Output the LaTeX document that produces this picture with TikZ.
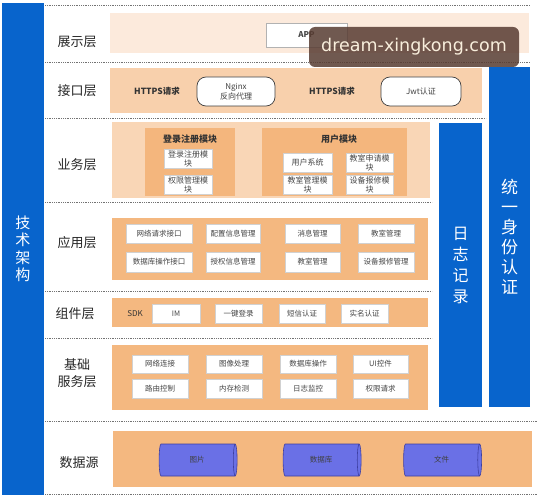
\documentclass[tikz,border=0pt]{standalone}
\usepackage{fontspec}
\setmainfont{Noto Sans CJK SC}
\newfontfamily\wmfont{DejaVu Sans}
\usetikzlibrary{shapes.geometric}
\definecolor{barblue}{RGB}{8,100,204}
\definecolor{showpeach}{RGB}{252,234,220}
\definecolor{ifpeach}{RGB}{248,208,172}
\definecolor{bizpeach}{RGB}{249,214,182}
\definecolor{modorange}{RGB}{244,182,125}
\definecolor{apporange}{RGB}{244,184,128}
\definecolor{cylfill}{RGB}{106,112,230}
\definecolor{cyldraw}{RGB}{60,62,160}
\definecolor{wmbrown}{RGB}{88,60,50}
\definecolor{wmtext}{RGB}{248,238,220}
\definecolor{txtgray}{RGB}{70,70,70}
\tikzset{
  bar/.style={fill=barblue, draw=none, text=white, align=center},
  band/.style={draw=none, inner sep=0pt},
  layerlabel/.style={font=\fontsize{13}{15}\selectfont, text=black!85, align=center},
  wbox/.style={fill=white, draw=black!18, inner sep=0pt, text=txtgray, align=center,
     font=\fontsize{7.5}{9}\selectfont},
  rbox/.style={fill=white, draw=black!75, line width=0.7pt, rounded corners=9pt, inner sep=0pt,
     align=center, text=black!75, font=\fontsize{8}{9.5}\selectfont},
  plain/.style={inner sep=0pt, text=black!80, font=\bfseries\fontsize{8.5}{10}\selectfont},
  modbox/.style={fill=modorange, draw=none, inner sep=0pt},
  modtitle/.style={inner sep=0pt, text=black!80, font=\bfseries\fontsize{9}{11}\selectfont},
  dots/.style={draw=black!55, line width=0.6pt, dash pattern=on 0.7pt off 1.1pt},
  cyl/.style={shape=cylinder, aspect=0.55, fill=cylfill, draw=cyldraw, line width=0.6pt,
     minimum height=78pt, minimum width=32pt, inner sep=0pt, text=black!75,
     font=\fontsize{7.5}{9}\selectfont}
}
\begin{document}
\begin{tikzpicture}[x=1pt,y=-1pt]
\useasboundingbox (0,0) rectangle (546,500);
\fill[white] (0,0) rectangle (546,500);

% dotted separators
\coordinate (d1a) at (45,5);   \coordinate (d1b) at (530,5);
\coordinate (d2a) at (45,62);  \coordinate (d2b) at (530,62);
\coordinate (d3a) at (45,118); \coordinate (d3b) at (486,118);
\coordinate (d4a) at (45,202); \coordinate (d4b) at (432,202);
\coordinate (d5a) at (45,291); \coordinate (d5b) at (432,291);
\coordinate (d6a) at (45,338); \coordinate (d6b) at (432,338);
\coordinate (d7a) at (45,421); \coordinate (d7b) at (538,421);
\coordinate (d8a) at (45,494); \coordinate (d8b) at (538,494);
\foreach \i in {1,...,8} {\draw[dots] (d\i a) -- (d\i b);}

% bands
\node[band, fill=showpeach, minimum width=419pt, minimum height=40pt] (showband) at (319.5,33) {};
\node[band, fill=ifpeach, minimum width=372pt, minimum height=45pt] (ifband) at (296,90.5) {};
\node[band, fill=bizpeach, minimum width=318pt, minimum height=76pt] (bizband) at (271,160) {};
\node[band, fill=apporange, minimum width=316pt, minimum height=62pt] (appband) at (270,249) {};
\node[band, fill=apporange, minimum width=316pt, minimum height=29pt] (compband) at (270,312.5) {};
\node[band, fill=apporange, minimum width=316pt, minimum height=65pt] (baseband) at (270,377.5) {};
\node[band, fill=apporange, minimum width=419pt, minimum height=56pt] (databand) at (322.5,459) {};

% vertical bars
\node[bar, minimum width=42pt, minimum height=492pt,
  font=\fontsize{15}{17.5}\selectfont] (techbar) at (23,249) {技\\术\\架\\构};
\node[bar, minimum width=43pt, minimum height=284pt,
  font=\fontsize{16}{21}\selectfont] (logbar) at (460.5,265) {日\\志\\记\\录};
\node[bar, minimum width=41pt, minimum height=340pt,
  font=\fontsize{17}{20}\selectfont] (authbar) at (509.5,237) {统\\一\\身\\份\\认\\证};

% layer labels
\node[layerlabel] (l1) at (77,42) {展示层};
\node[layerlabel] (l2) at (77,91) {接口层};
\node[layerlabel] (l3) at (77,165) {业务层};
\node[layerlabel] (l4) at (77,243) {应用层};
\node[layerlabel] (l5) at (75,314) {组件层};
\node[layerlabel, font=\fontsize{13}{17}\selectfont] (l6) at (77,373) {基础\\服务层};
\node[layerlabel] (l7) at (79,463) {数据源};

% show layer
\node[wbox, draw=black!30, minimum width=81pt, minimum height=24pt,
  font=\bfseries\fontsize{8}{10}\selectfont] (app) at (306.5,35) {APP};

% interface layer
\node[plain] (https1) at (157,91) {HTTPS请求};
\node[rbox, minimum width=78pt, minimum height=29pt] (nginx) at (236,91.5) {Nginx\\反向代理};
\node[plain] (https2) at (332,91) {HTTPS请求};
\node[rbox, minimum width=80pt, minimum height=29pt] (jwt) at (421,91.5) {Jwt认证};

% business layer
\node[modbox, minimum width=90pt, minimum height=68pt] (loginmod) at (190,162) {};
\node[modtitle] (logintitle) at (190,139) {登录注册模块};
\node[wbox, minimum width=48pt, minimum height=19pt, font=\fontsize{8}{9}\selectfont] (b11) at (188,159) {登录注册模\\块};
\node[wbox, minimum width=48pt, minimum height=19pt, font=\fontsize{8}{9}\selectfont] (b12) at (188,184.5) {权限管理模\\块};

\node[modbox, minimum width=145pt, minimum height=68pt] (usermod) at (334,162) {};
\node[modtitle] (usertitle) at (339,139) {用户模块};
\node[wbox, minimum width=49pt, minimum height=19pt, font=\fontsize{8}{9}\selectfont] (b21) at (307.5,162.5) {用户系统};
\node[wbox, minimum width=47pt, minimum height=19pt, font=\fontsize{8}{9}\selectfont] (b22) at (369.5,162.5) {教室申请模\\块};
\node[wbox, minimum width=49pt, minimum height=19pt, font=\fontsize{8}{9}\selectfont] (b23) at (307.5,184.5) {教室管理模\\块};
\node[wbox, minimum width=47pt, minimum height=19pt, font=\fontsize{8}{9}\selectfont] (b24) at (369.5,184.5) {设备报修模\\块};

% application layer
\node[wbox, minimum width=66pt, minimum height=19pt] (a11) at (159,233.5) {网络请求接口};
\node[wbox, minimum width=54pt, minimum height=19pt] (a12) at (233,233.5) {配置信息管理};
\node[wbox, minimum width=55pt, minimum height=19pt] (a13) at (312.5,233.5) {消息管理};
\node[wbox, minimum width=56pt, minimum height=19pt] (a14) at (386,233.5) {教室管理};
\node[wbox, minimum width=66pt, minimum height=20pt] (a21) at (159,262) {数据库操作接口};
\node[wbox, minimum width=54pt, minimum height=20pt] (a22) at (233,262) {授权信息管理};
\node[wbox, minimum width=55pt, minimum height=20pt] (a23) at (312.5,262) {教室管理};
\node[wbox, minimum width=56pt, minimum height=20pt] (a24) at (386,262) {设备报修管理};

% component layer
\node[inner sep=0pt, text=black!80, font=\fontsize{8}{10}\selectfont] (sdk) at (135,313.5) {SDK};
\node[wbox, minimum width=48pt, minimum height=19pt] (c1) at (176,313.5) {IM};
\node[wbox, minimum width=47pt, minimum height=19pt] (c2) at (238.5,313.5) {一键登录};
\node[wbox, minimum width=46pt, minimum height=19pt] (c3) at (302,313.5) {短信认证};
\node[wbox, minimum width=47pt, minimum height=19pt] (c4) at (364.5,313.5) {实名认证};

% basic service layer
\node[wbox, minimum width=56pt, minimum height=18pt] (s11) at (160,364) {网络连接};
\node[wbox, minimum width=56pt, minimum height=18pt] (s12) at (234,364) {图像处理};
\node[wbox, minimum width=56pt, minimum height=18pt] (s13) at (308,364) {数据库操作};
\node[wbox, minimum width=55pt, minimum height=18pt] (s14) at (380.5,364) {UI控件};
\node[wbox, minimum width=56pt, minimum height=19pt] (s21) at (160,388.5) {路由控制};
\node[wbox, minimum width=56pt, minimum height=19pt] (s22) at (234,388.5) {内存检测};
\node[wbox, minimum width=56pt, minimum height=19pt] (s23) at (308,388.5) {日志监控};
\node[wbox, minimum width=55pt, minimum height=19pt] (s24) at (380.5,388.5) {权限请求};

% data source
\node[cyl] (pic) at (197,460) {图片};
\node[cyl] (db) at (321,460) {数据库};
\node[cyl] (file) at (441.5,460) {文件};

% watermark
\node[fill=wmbrown, fill opacity=0.85, text opacity=1, rounded corners=6pt, text=wmtext,
  minimum width=210pt, minimum height=40pt, inner sep=0pt,
  font=\wmfont\fontsize{17.5}{20}\selectfont] (wm) at (414,47) {dream-xingkong.com};
\end{tikzpicture}
\end{document}
